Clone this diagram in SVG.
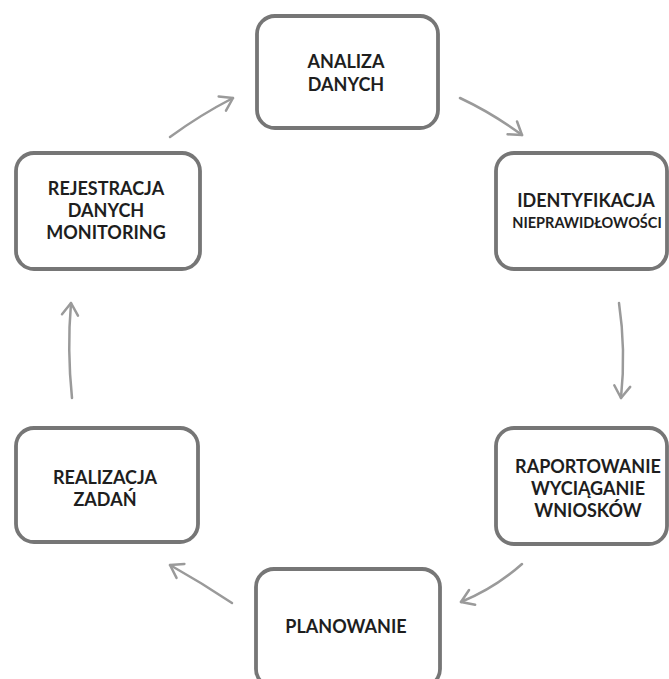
<svg xmlns="http://www.w3.org/2000/svg" width="669" height="679" viewBox="0 0 669 679">
  <style>
    .box { fill: #ffffff; stroke: #767676; stroke-width: 3.8; }
    .t { font-family: Lato, "Open Sans", "Liberation Sans", sans-serif; font-weight: 700; font-size: 18px; fill: #1e1e1e; text-anchor: middle; }
    .ts { font-size: 14.5px; }
    .conn { fill: none; stroke: #9a9a9a; stroke-width: 2.5; stroke-linecap: round; }
  </style>
  <defs>
    <marker id="arr" viewBox="0 0 20 20" refX="14" refY="10" markerWidth="20" markerHeight="20" markerUnits="userSpaceOnUse" orient="auto">
      <path d="M2,2 L14,10 L2,18" fill="none" stroke="#9a9a9a" stroke-width="2.5" stroke-linecap="round" stroke-linejoin="round"/>
    </marker>
  </defs>
  <rect width="669" height="679" fill="#ffffff"/>

  <g id="connectors">
    <path class="conn" marker-end="url(#arr)" d="M170,137 Q200,115 233,98"/>
    <path class="conn" marker-end="url(#arr)" d="M460,98 Q492,113 522,135"/>
    <path class="conn" marker-end="url(#arr)" d="M619,303 Q626,350 621,398"/>
    <path class="conn" marker-end="url(#arr)" d="M522,564 Q495,588 461,602"/>
    <path class="conn" marker-end="url(#arr)" d="M232,603 Q202,583 170,565"/>
    <path class="conn" marker-end="url(#arr)" d="M72,398 Q67,350 71,303"/>
  </g>

  <g id="analiza">
    <rect class="box" x="257" y="16" width="181" height="112" rx="18"/>
    <text class="t" x="346" y="68">ANALIZA</text>
    <text class="t" x="346" y="91">DANYCH</text>
  </g>
  <g id="identyfikacja">
    <rect class="box" x="496" y="153" width="171" height="116" rx="18"/>
    <text class="t" x="586" y="207">IDENTYFIKACJA</text>
    <text class="t ts" x="587" y="228">NIEPRAWIDŁOWOŚCI</text>
  </g>
  <g id="raportowanie">
    <rect class="box" x="496" y="428" width="171" height="116" rx="18"/>
    <text class="t" x="588" y="473">RAPORTOWANIE</text>
    <text class="t" x="588" y="495">WYCIĄGANIE</text>
    <text class="t" x="588" y="517">WNIOSKÓW</text>
  </g>
  <g id="planowanie">
    <rect class="box" x="256" y="569" width="184" height="118" rx="18"/>
    <text class="t" x="346" y="633">PLANOWANIE</text>
  </g>
  <g id="realizacja">
    <rect class="box" x="16" y="428" width="182" height="114" rx="18"/>
    <text class="t" x="105" y="484">REALIZACJA</text>
    <text class="t" x="105" y="506">ZADAŃ</text>
  </g>
  <g id="rejestracja">
    <rect class="box" x="16" y="153" width="184" height="116" rx="18"/>
    <text class="t" x="106" y="195">REJESTRACJA</text>
    <text class="t" x="106" y="217">DANYCH</text>
    <text class="t" x="106" y="239">MONITORING</text>
  </g>
</svg>
